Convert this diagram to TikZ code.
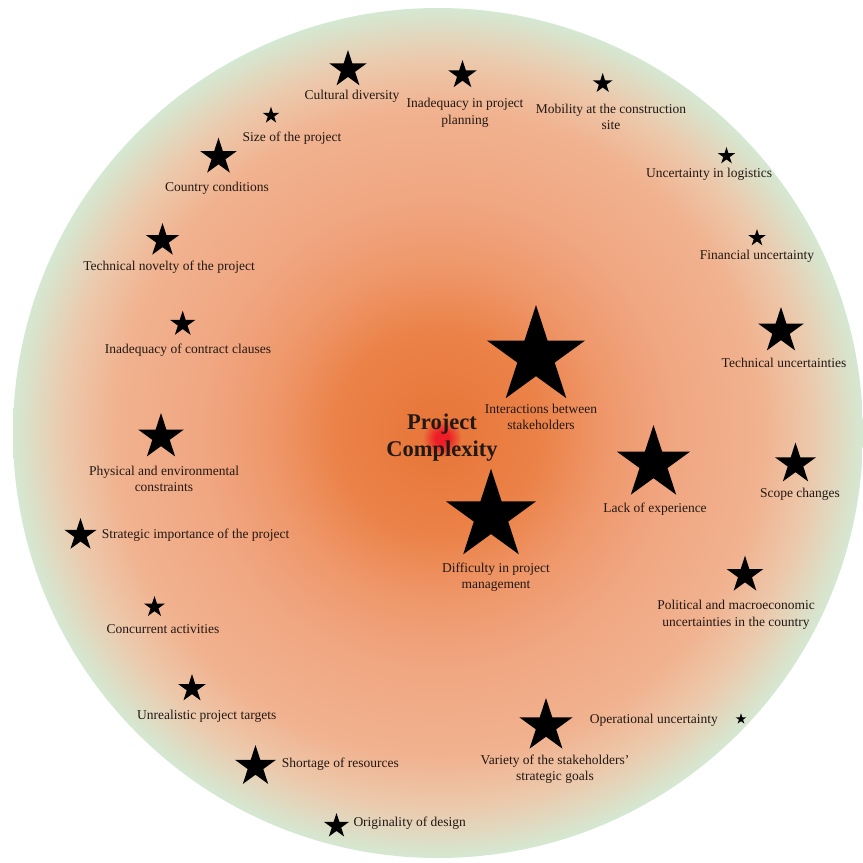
\documentclass[tikz,border=0pt]{standalone}
\usepackage{fontspec}
\setmainfont{Liberation Serif}
\usetikzlibrary{shapes.geometric}

\definecolor{ink}{RGB}{34,24,20}
\definecolor{coreorange}{RGB}{231,117,56}
\definecolor{midorange}{RGB}{235,130,72}
\definecolor{softorange}{RGB}{239,152,108}
\definecolor{peach}{RGB}{240,167,130}
\definecolor{lightpeach}{RGB}{241,178,143}
\definecolor{sand}{RGB}{236,201,172}
\definecolor{mint}{RGB}{213,232,210}
\definecolor{hotred}{RGB}{238,30,40}

% rings of the complexity disc
\pgfdeclareradialshading{glow}{\pgfpoint{0bp}{0bp}}{%
  color(0bp)=(coreorange); color(6bp)=(midorange); color(10bp)=(softorange);
  color(14bp)=(peach); color(19bp)=(lightpeach); color(22bp)=(sand);
  color(25bp)=(mint); color(50bp)=(mint)}
% red spot in the middle
\pgfdeclareradialshading{spot}{\pgfpoint{0bp}{0bp}}{%
  color(0bp)=(hotred); color(9bp)=(hotred); color(25bp)=(coreorange); color(50bp)=(coreorange)}

\begin{document}
\begin{tikzpicture}[x=1pt, y=-1pt,
    factor/.style={star, star points=5, star point ratio=2.618, fill=black, draw=none, inner sep=0pt, minimum size=#1pt},
    note/.style={text=ink, align=center, inner sep=0pt, font=\fontsize{13.5}{16.5}\selectfont},
  ]
  \useasboundingbox (0,0) rectangle (863,863);
  \fill[white] (0,0) rectangle (863,863);

  \shade[shading=glow] (438,433) circle (425pt);
  \shade[shading=spot] (442,438) circle (19pt);

  \node[text=ink, align=center, inner sep=0pt, font=\fontsize{22.5}{27}\selectfont\bfseries] (core) at (442,438) {Project\\Complexity};

  % top arc
  \node[factor=39] (cult) at (348,69.5) {};
  \node[note] (cultT) at (352,96) {Cultural diversity};
  \node[factor=30] (plan) at (462.5,75) {};
  \node[note] (planT) at (465,113) {Inadequacy in project\\planning};
  \node[factor=21] (mob) at (602.7,83.5) {};
  \node[note] (mobT) at (611,117) {Mobility at the construction\\site};
  \node[factor=17.6] (size) at (271,115.5) {};
  \node[note] (sizeT) at (292,138) {Size of the project};
  \node[factor=38.6] (country) at (218.5,157) {};
  \node[note] (countryT) at (217,188) {Country conditions};
  \node[factor=18] (logis) at (726.5,156) {};
  \node[note] (logisT) at (709,174) {Uncertainty in logistics};
  \node[factor=18] (fin) at (757,238) {};
  \node[note] (finT) at (757,256.7) {Financial uncertainty};

  % left side
  \node[factor=35] (novel) at (162.5,240.5) {};
  \node[note] (novelT) at (169,267) {Technical novelty of the project};
  \node[factor=26.6] (contract) at (182.7,324) {};
  \node[note] (contractT) at (188,350) {Inadequacy of contract clauses};
  \node[factor=48] (phys) at (161,437) {};
  \node[note] (physT) at (164,479) {Physical and environmental\\constraints};
  \node[factor=34] (strat) at (80.5,535) {};
  \node[note, anchor=west] (stratT) at (101.7,535.5) {Strategic importance of the project};
  \node[factor=22] (concur) at (154.5,607) {};
  \node[note] (concurT) at (163,629) {Concurrent activities};
  \node[factor=29] (unreal) at (192,688.6) {};
  \node[note] (unrealT) at (206.7,716.7) {Unrealistic project targets};
  \node[factor=43] (short) at (255.5,766.5) {};
  \node[note, anchor=west] (shortT) at (281.7,764) {Shortage of resources};
  \node[factor=26] (orig) at (336.5,826) {};
  \node[note, anchor=west] (origT) at (353.3,823) {Originality of design};

  % inner ring
  \node[factor=103] (inter) at (536,356.5) {};
  \node[note] (interT) at (541,417) {Interactions between\\stakeholders};
  \node[factor=77] (lack) at (653.5,463.5) {};
  \node[note] (lackT) at (655,509) {Lack of experience};
  \node[factor=94.6] (diff) at (491,516) {};
  \node[note] (diffT) at (496,577) {Difficulty in project\\management};

  % right side
  \node[factor=48] (techunc) at (781,331) {};
  \node[note] (techuncT) at (784,363) {Technical uncertainties};
  \node[factor=43] (scope) at (795.5,464) {};
  \node[note] (scopeT) at (800,494) {Scope changes};
  \node[factor=38.6] (polit) at (745,575) {};
  \node[note] (politT) at (736,615) {Political and macroeconomic\\uncertainties in the country};
  \node[factor=56] (variety) at (546,726) {};
  \node[note] (varietyT) at (555,769) {Variety of the stakeholders’\\strategic goals};
  \node[factor=11.2] (oper) at (741,719) {};
  \node[note, anchor=east] (operT) at (718,720) {Operational uncertainty};
\end{tikzpicture}
\end{document}
